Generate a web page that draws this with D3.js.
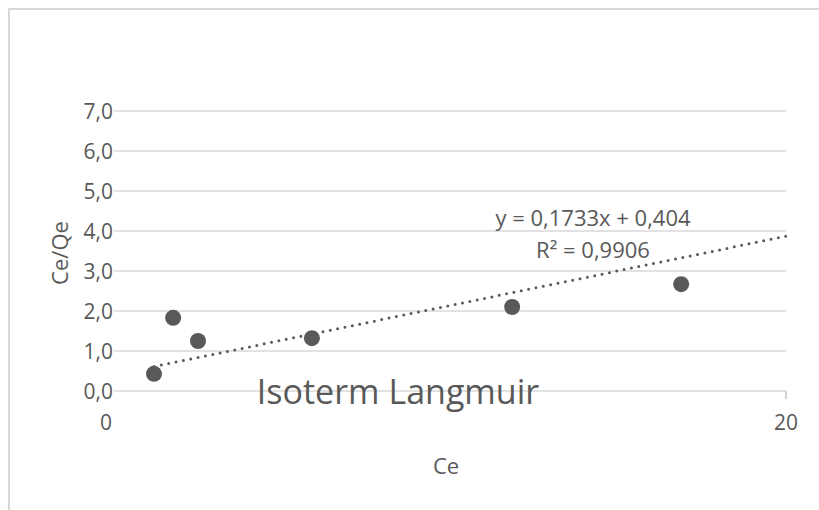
<!DOCTYPE html>
<html>
<head>
<meta charset="utf-8">
<script src="https://cdn.jsdelivr.net/npm/d3@7"></script>
<style>
  body { margin: 0; background: #fff; }
  svg { display: block; font-family: "Open Sans", sans-serif; }
</style>
</head>
<body>
<div id="chart"></div>
<script>
// data
var ceValues = [1.19, 1.76, 2.5, 5.89, 11.85, 16.88];
var ceQeValues = [0.43, 1.83, 1.25, 1.32, 2.1, 2.67];
var yTicks = [0, 1, 2, 3, 4, 5, 6, 7];
var xTicks = [0, 20];
var slope = 0.1733, intercept = 0.404;
var eqLabel = "y = 0,1733x + 0,404";
var r2Label = "R² = 0,9906";

var w = 819, h = 510;
var margin = { top: 111, right: 33, bottom: 119, left: 114 };
var iw = w - margin.left - margin.right,
    ih = h - margin.top - margin.bottom;

var grey = "#595959", gridC = "#d9d9d9";
var fmt = function(v) { return d3.format(".1f")(v).replace(".", ","); };

var svg = d3.select("#chart").append("svg")
    .attr("width", w)
    .attr("height", h);

// outer frame
svg.append("rect")
    .attr("x", 9).attr("y", 9)
    .attr("width", w + 20).attr("height", h + 20)
    .attr("fill", "none")
    .attr("stroke", gridC)
    .attr("stroke-width", 2);

var g = svg.append("g")
    .attr("transform", "translate(" + margin.left + "," + margin.top + ")");

var x = d3.scaleLinear().domain([0, 20]).range([0, iw]);
var y = d3.scaleLinear().domain([0, 7]).range([ih, 0]);

// gridlines
g.selectAll(".grid").data(yTicks).enter().append("line")
    .attr("x1", 0).attr("x2", iw)
    .attr("y1", function(d) { return y(d); })
    .attr("y2", function(d) { return y(d); })
    .attr("stroke", gridC)
    .attr("stroke-width", 1.3);

// y tick labels
g.selectAll(".ylab").data(yTicks).enter().append("text")
    .attr("x", -1)
    .attr("y", function(d) { return y(d); })
    .attr("dy", "0.36em")
    .attr("text-anchor", "end")
    .attr("fill", grey)
    .style("font-size", "21px")
    .text(fmt);

// x axis tick at the end
g.append("line")
    .attr("x1", x(20)).attr("x2", x(20))
    .attr("y1", ih).attr("y2", ih + 8)
    .attr("stroke", "#bfbfbf")
    .attr("stroke-width", 1.3);

g.selectAll(".xlab").data(xTicks).enter().append("text")
    .attr("x", function(d) { return d === 0 ? x(d) - 8 : x(d); })
    .attr("y", ih + 39)
    .attr("text-anchor", "middle")
    .attr("fill", grey)
    .style("font-size", "21px")
    .text(function(d) { return d; });

// axis titles
svg.append("text")
    .attr("x", 446).attr("y", 474)
    .attr("text-anchor", "middle")
    .attr("fill", grey)
    .style("font-size", "22px")
    .text("Ce");

svg.append("text")
    .attr("transform", "translate(68,253) rotate(-90)")
    .attr("text-anchor", "middle")
    .attr("fill", grey)
    .style("font-size", "22px")
    .text("Ce/Qe");

// chart title sits inside the plot at the bottom
svg.append("text")
    .attr("x", 398).attr("y", 404)
    .attr("text-anchor", "middle")
    .attr("fill", grey)
    .style("font-size", "34px")
    .text("Isoterm Langmuir");

// trendline
var x0 = d3.min(ceValues);
g.append("line")
    .attr("x1", x(x0)).attr("y1", y(slope * x0 + intercept))
    .attr("x2", x(20)).attr("y2", y(slope * 20 + intercept))
    .attr("stroke", grey)
    .attr("stroke-width", 3)
    .attr("stroke-linecap", "round")
    .attr("stroke-dasharray", "0,7.5");

// points
g.selectAll(".dot").data(ceValues).enter().append("circle")
    .attr("cx", function(d) { return x(d); })
    .attr("cy", function(d, i) { return y(ceQeValues[i]); })
    .attr("r", 8)
    .attr("fill", grey);

// equation labels
svg.append("text")
    .attr("x", 593).attr("y", 226)
    .attr("text-anchor", "middle")
    .attr("fill", grey)
    .style("font-size", "22px")
    .text(eqLabel);

svg.append("text")
    .attr("x", 593).attr("y", 258)
    .attr("text-anchor", "middle")
    .attr("fill", grey)
    .style("font-size", "22px")
    .text(r2Label);
</script>
</body>
</html>
